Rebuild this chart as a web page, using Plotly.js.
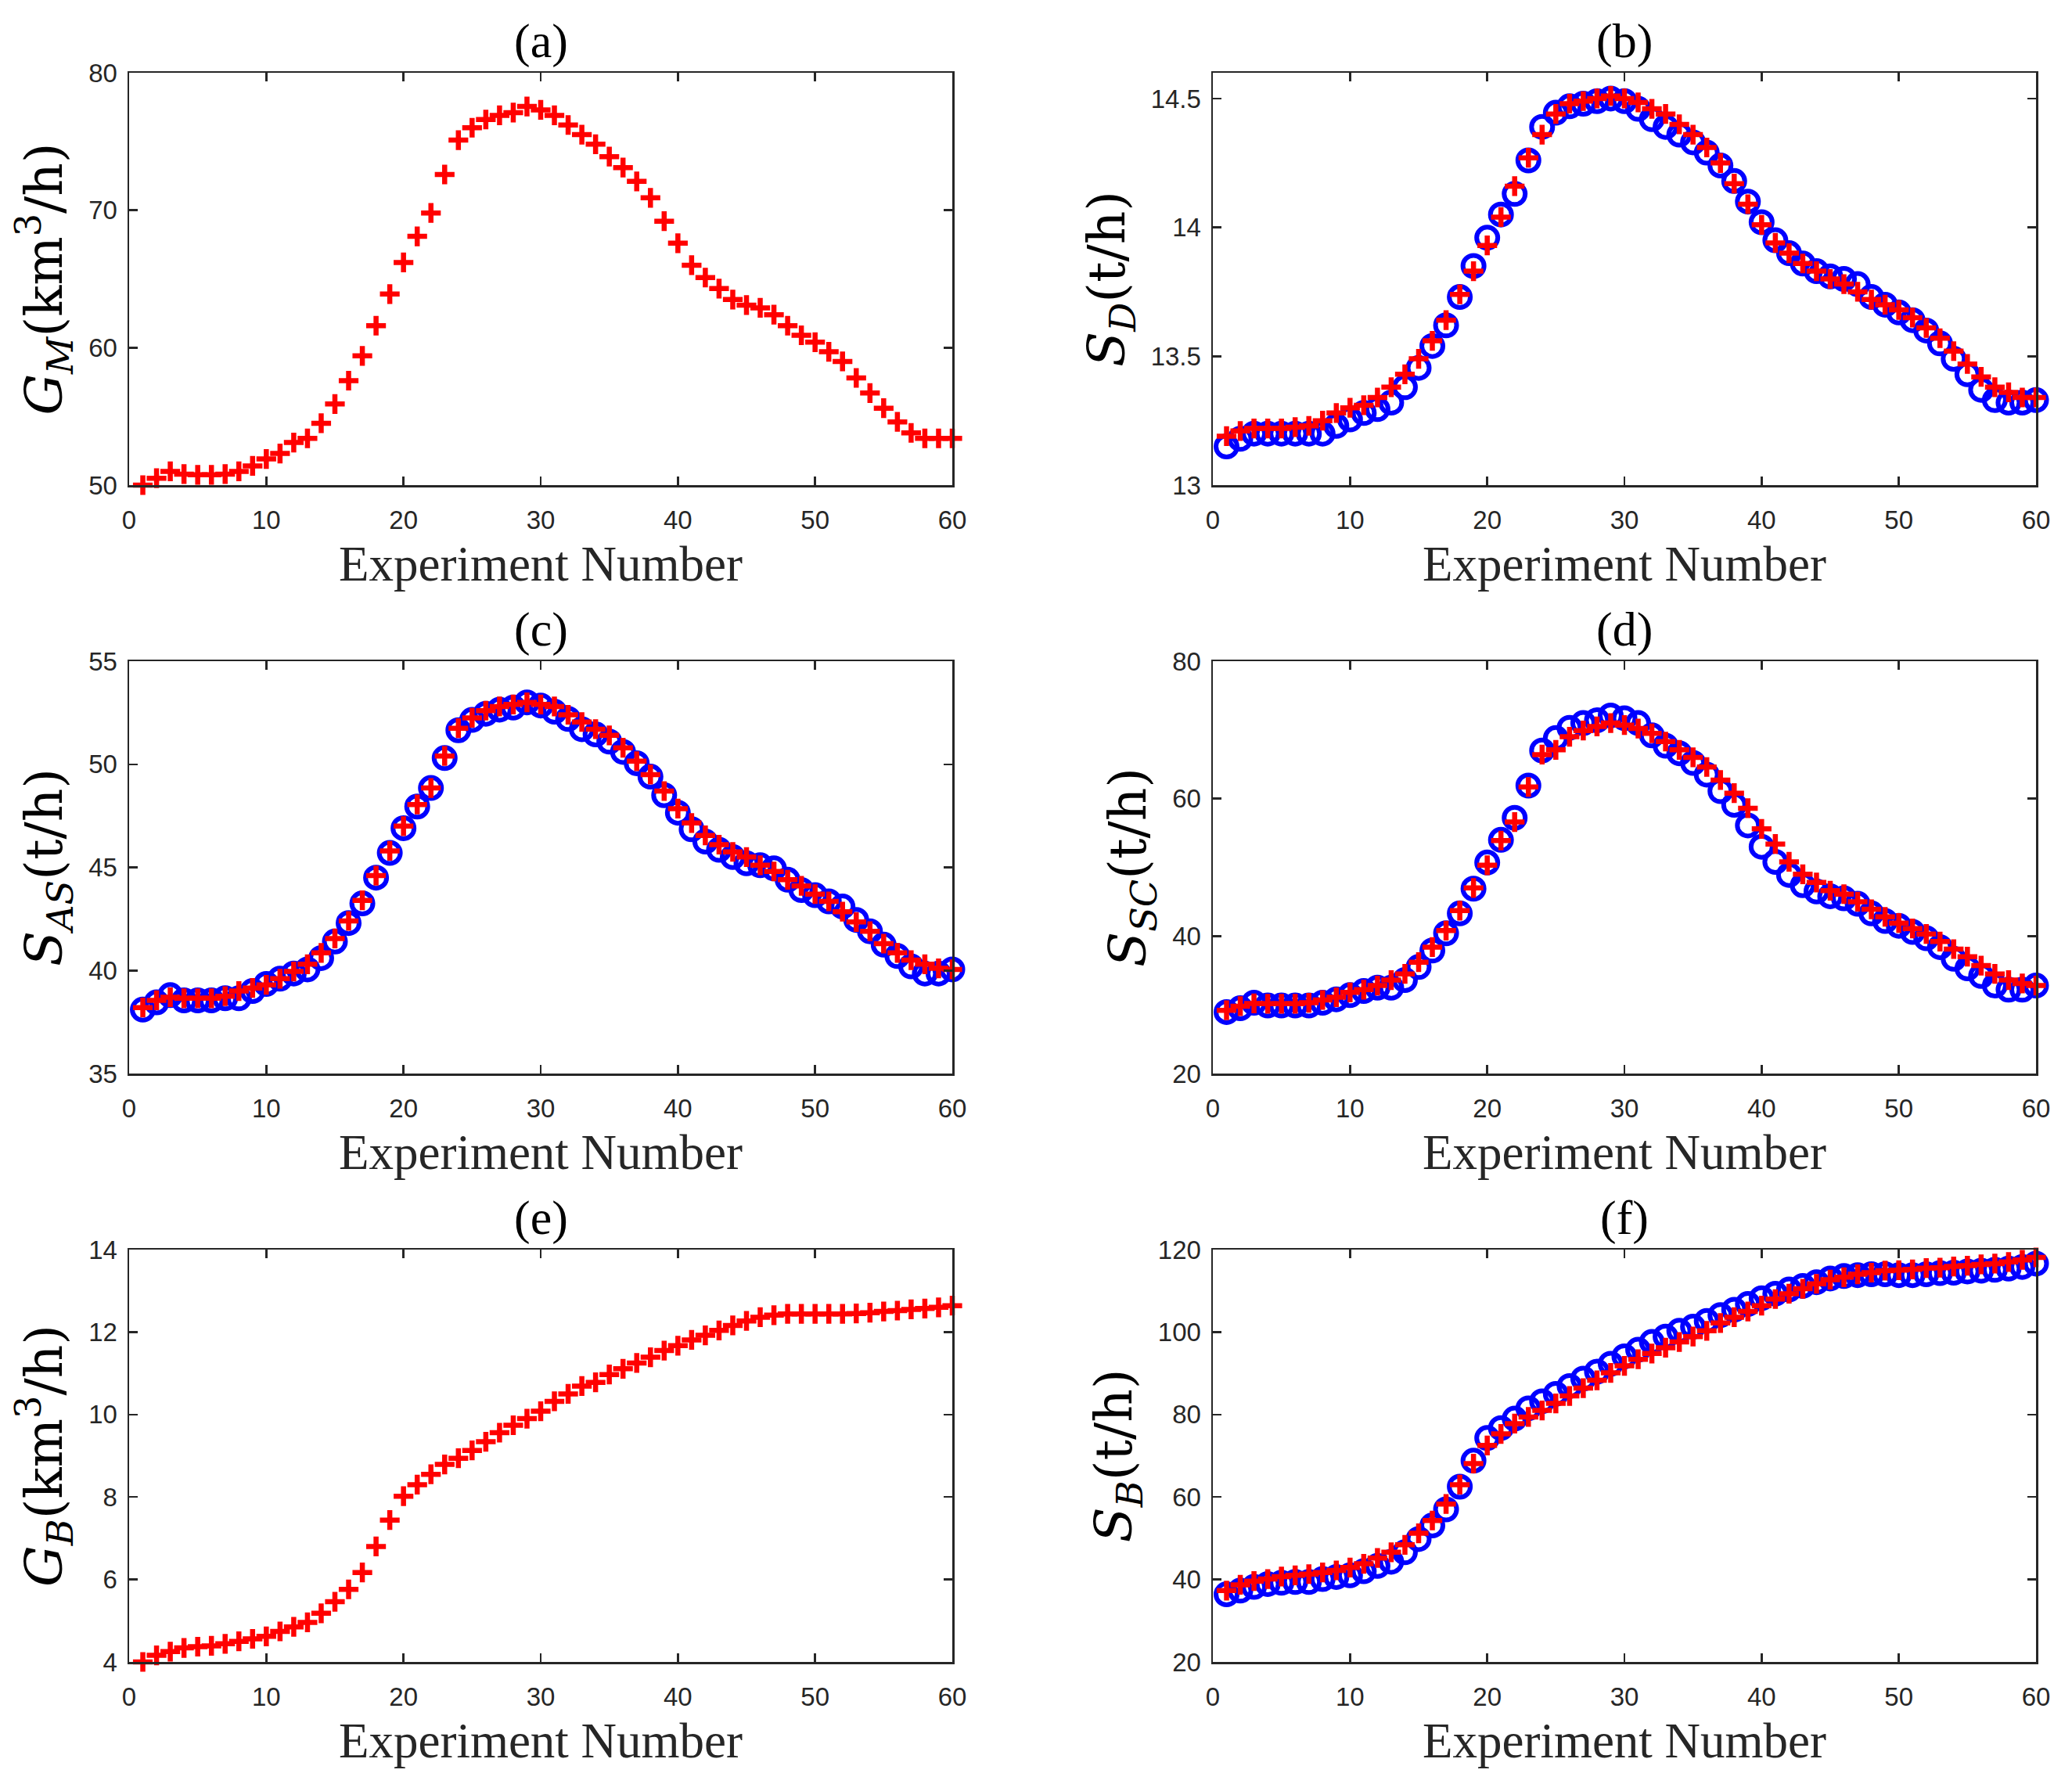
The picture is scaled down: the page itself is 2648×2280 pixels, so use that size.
<!DOCTYPE html>
<html><head><meta charset="utf-8">
<script src="https://cdn.plot.ly/plotly-3.0.1.min.js"></script>
<style>html,body{margin:0;padding:0;background:#fff}</style>
</head><body><div id="chart" style="width:2648px;height:2280px"></div>
<script>
const experimentNumber = [1,2,3,4,5,6,7,8,9,10,11,12,13,14,15,16,17,18,19,20,21,22,23,24,25,26,27,28,29,30,31,32,33,34,35,36,37,38,39,40,41,42,43,44,45,46,47,48,49,50,51,52,53,54,55,56,57,58,59,60];
const xTicks = [0,10,20,30,40,50,60];

// (a) G_M
const gM = [50.0,50.5,51.0,50.8,50.75,50.75,50.8,51.0,51.4,51.9,
  52.3,53.1,53.4,54.5,55.9,57.6,59.4,61.6,63.9,66.2,
  68.1,69.8,72.6,75.1,76.0,76.6,76.9,77.1,77.55,77.3,
  76.9,76.2,75.5,74.8,73.9,73.1,72.1,70.9,69.2,67.6,
  66.0,65.1,64.3,63.5,63.1,62.9,62.4,61.6,60.9,60.4,
  59.7,59.0,57.8,56.7,55.6,54.6,53.8,53.4,53.4,53.4];

// (b) S_D
const sDCircle = [13.15,13.18,13.20,13.20,13.20,13.20,13.20,13.20,13.23,13.255,
  13.28,13.295,13.32,13.38,13.455,13.54,13.62,13.73,13.85,13.96,
  14.05,14.13,14.26,14.39,14.445,14.47,14.48,14.49,14.50,14.49,
  14.46,14.42,14.39,14.36,14.33,14.29,14.24,14.18,14.10,14.02,
  13.95,13.90,13.86,13.83,13.81,13.80,13.78,13.73,13.70,13.67,
  13.64,13.60,13.55,13.49,13.43,13.37,13.33,13.32,13.32,13.33];
const sDCross = [13.19,13.21,13.22,13.22,13.22,13.225,13.23,13.25,13.28,13.30,
  13.31,13.34,13.38,13.43,13.49,13.56,13.64,13.74,13.83,13.93,
  14.04,14.16,14.27,14.36,14.44,14.48,14.49,14.50,14.51,14.50,
  14.485,14.46,14.44,14.40,14.36,14.31,14.25,14.17,14.09,14.01,
  13.94,13.90,13.86,13.83,13.80,13.78,13.75,13.72,13.70,13.68,
  13.65,13.61,13.57,13.52,13.47,13.42,13.38,13.36,13.34,13.34];

// (c) S_AS
const sASCircle = [38.1,38.45,38.8,38.55,38.55,38.55,38.65,38.65,39.0,39.35,
  39.6,39.85,40.05,40.6,41.4,42.3,43.25,44.5,45.7,46.9,
  47.95,48.85,50.3,51.65,52.15,52.45,52.65,52.75,53.0,52.85,
  52.55,52.2,51.7,51.45,51.1,50.6,50.05,49.4,48.5,47.65,
  46.85,46.25,45.85,45.5,45.2,45.1,44.95,44.4,43.9,43.65,
  43.35,43.1,42.45,41.9,41.25,40.7,40.2,39.85,39.85,40.05];
const sASCross = [38.2,38.55,38.7,38.65,38.65,38.65,38.75,39.0,39.15,39.3,
  39.6,39.95,40.3,40.85,41.55,42.4,43.4,44.6,45.8,47.0,
  48.05,48.85,50.4,51.75,52.25,52.6,52.8,52.9,53.0,52.9,
  52.8,52.4,52.05,51.7,51.4,50.8,50.15,49.5,48.7,47.85,
  47.15,46.55,46.1,45.75,45.5,45.1,44.8,44.4,44.1,43.7,
  43.35,42.85,42.35,41.9,41.3,40.85,40.5,40.3,40.1,40.05];

// (d) S_SC
const sSCCircle = [28.95,29.5,30.3,29.9,29.9,29.9,29.9,30.3,30.8,31.4,
  32.0,32.5,32.5,33.6,35.5,37.9,40.4,43.3,46.9,50.7,
  54.0,57.2,61.9,67.0,68.8,70.3,71.0,71.4,72.1,71.7,
  71.0,69.2,67.7,66.6,65.2,63.5,61.1,59.1,56.1,53.0,
  50.8,48.9,47.4,46.5,45.8,45.5,44.7,43.3,42.2,41.5,
  40.6,39.7,38.4,36.7,35.3,34.2,32.8,32.2,32.2,32.8];
const sSCCross = [29.2,29.8,30.2,30.15,30.15,30.15,30.3,30.7,31.1,31.8,
  32.2,32.8,33.6,34.5,36.2,38.4,40.8,43.7,47.0,50.3,
  53.9,56.6,61.7,66.4,67.1,69.0,69.9,70.5,71.0,70.7,
  70.2,69.5,68.3,67.1,66.0,64.6,62.7,60.8,58.6,55.6,
  53.4,50.8,49.0,47.8,46.6,46.1,45.0,43.9,42.8,41.9,
  41.1,40.3,39.2,38.1,37.0,35.7,34.5,33.6,33.1,32.8];

// (e) G_B
const gB = [4.0,4.16,4.25,4.34,4.37,4.39,4.44,4.5,4.56,4.62,
  4.74,4.85,4.96,5.18,5.46,5.76,6.17,6.8,7.44,8.02,
  8.3,8.55,8.79,8.94,9.13,9.34,9.56,9.74,9.9,10.08,
  10.32,10.5,10.69,10.78,10.97,11.11,11.25,11.39,11.55,11.67,
  11.81,11.92,12.04,12.16,12.27,12.36,12.41,12.44,12.44,12.44,
  12.44,12.44,12.45,12.47,12.5,12.52,12.55,12.57,12.6,12.64];

// (f) S_B
const sBCircle = [36.4,37.3,38.2,38.9,39.2,39.4,39.4,40.1,40.6,41.0,
  42.0,43.3,44.3,46.6,49.8,53.1,57.0,62.5,68.8,74.3,
  76.7,79.0,81.5,83.2,85.0,86.9,88.7,90.4,92.3,94.1,
  95.7,97.6,98.9,100.3,101.3,102.7,104.1,105.4,106.8,108.2,
  109.3,110.3,111.2,112.1,113.0,113.6,113.8,114.0,114.0,113.8,
  113.8,114.0,114.3,114.4,114.7,114.9,115.1,115.4,115.8,116.6];
const sBCross = [37.3,38.7,39.6,40.1,40.7,41.0,41.3,41.7,42.2,42.9,
  43.8,45.2,46.6,48.4,51.2,54.3,58.3,63.0,68.1,72.5,
  75.3,77.8,79.4,81.0,82.7,84.5,86.4,88.3,90.1,91.8,
  93.4,94.8,96.2,97.6,98.9,100.3,102.2,103.6,105.0,106.4,
  108.0,109.3,110.5,111.7,112.7,113.3,114.0,114.4,114.9,115.0,
  115.2,115.5,115.6,115.9,116.1,116.4,116.6,117.0,117.5,118.1];

const panelLetters = ['(a)','(b)','(c)','(d)','(e)','(f)'];
const yLabels = [
  '<i>G</i><sub><i>M</i></sub>(km<sup>3</sup>/h)',
  '<i>S</i><sub><i>D</i></sub>(t/h)',
  '<i>S</i><sub><i>AS</i></sub>(t/h)',
  '<i>S</i><sub><i>SC</i></sub>(t/h)',
  '<i>G</i><sub><i>B</i></sub>(km<sup>3</sup>/h)',
  '<i>S</i><sub><i>B</i></sub>(t/h)'
];
const xLabel = 'Experiment Number';
const yRanges = [[50,80],[13,14.6],[35,55],[20,80],[4,14],[20,120]];
const yTickVals = [[50,60,70,80],[13,13.5,14,14.5],[35,40,45,50,55],[20,40,60,80],[4,6,8,10,12,14],[20,40,60,80,100,120]];
const circleSeries = [null, sDCircle, sASCircle, sSCCircle, null, sBCircle];
const crossSeries = [gM, sDCross, sASCross, sSCCross, gB, sBCross];

const W = 2648, H = 2280;
const colX = [[165,1217],[1550,2602]];
const rowY = [[93,620],[845,1372],[1597,2124]];
const axisColor = '#262626';
const tickFont = {family:'Liberation Sans, Arial, sans-serif', size:33, color:axisColor};
const serif = 'Liberation Serif, Times New Roman, serif';
const mathSerif = 'DejaVu Serif, serif';

const traces = [];
const layout = {
  width: W, height: H,
  margin: {l:0, r:0, t:0, b:0},
  paper_bgcolor: '#fff', plot_bgcolor: '#fff',
  showlegend: false,
  annotations: []
};

for (let i = 0; i < 6; i++) {
  const col = i % 2, row = Math.floor(i / 2);
  const n = i + 1;
  const xa = n === 1 ? 'x' : 'x' + n;
  const ya = n === 1 ? 'y' : 'y' + n;
  if (circleSeries[i]) {
    traces.push({
      x: experimentNumber, y: circleSeries[i], xaxis: xa, yaxis: ya,
      type: 'scatter', mode: 'markers', cliponaxis: false,
      marker: {symbol: 'circle-open', size: 27, color: '#0000FF', line: {width: 6, color: '#0000FF'}}
    });
  }
  traces.push({
    x: experimentNumber, y: crossSeries[i], xaxis: xa, yaxis: ya,
    type: 'scatter', mode: 'markers', cliponaxis: false,
    marker: {symbol: 'cross-thin', size: 18, color: '#FF0000', line: {width: 6.5, color: '#FF0000'}}
  });
  const xd = [colX[col][0] / W, colX[col][1] / W];
  const yd = [1 - rowY[row][1] / H, 1 - rowY[row][0] / H];
  const common = {
    showline: true, linecolor: axisColor, linewidth: 2.5, mirror: 'allticks',
    ticks: 'inside', ticklen: 11, tickwidth: 2.5, tickcolor: axisColor,
    showgrid: false, zeroline: false, tickfont: tickFont, automargin: false
  };
  layout['xaxis' + (n === 1 ? '' : n)] = Object.assign({}, common, {
    domain: xd, anchor: ya, range: [0, 60], tickvals: xTicks, ticklabelstandoff: 14,
    title: {text: xLabel, font: {family: serif, size: 63, color: axisColor}, standoff: 16}
  });
  layout['yaxis' + (n === 1 ? '' : n)] = Object.assign({}, common, {
    domain: yd, anchor: xa, range: yRanges[i], tickvals: yTickVals[i], ticklabelstandoff: 6,
    title: {text: yLabels[i], font: {family: mathSerif, size: 66, color: '#000'}, standoff: 12}
  });
  layout.annotations.push({
    text: panelLetters[i], xref: 'paper', yref: 'paper',
    x: (xd[0] + xd[1]) / 2, y: yd[1], xanchor: 'center', yanchor: 'bottom', yshift: 4,
    showarrow: false, font: {family: serif, size: 62, color: '#000'}
  });
}

Plotly.newPlot('chart', traces, layout, {staticPlot: true, displayModeBar: false});
</script>
</body></html>
